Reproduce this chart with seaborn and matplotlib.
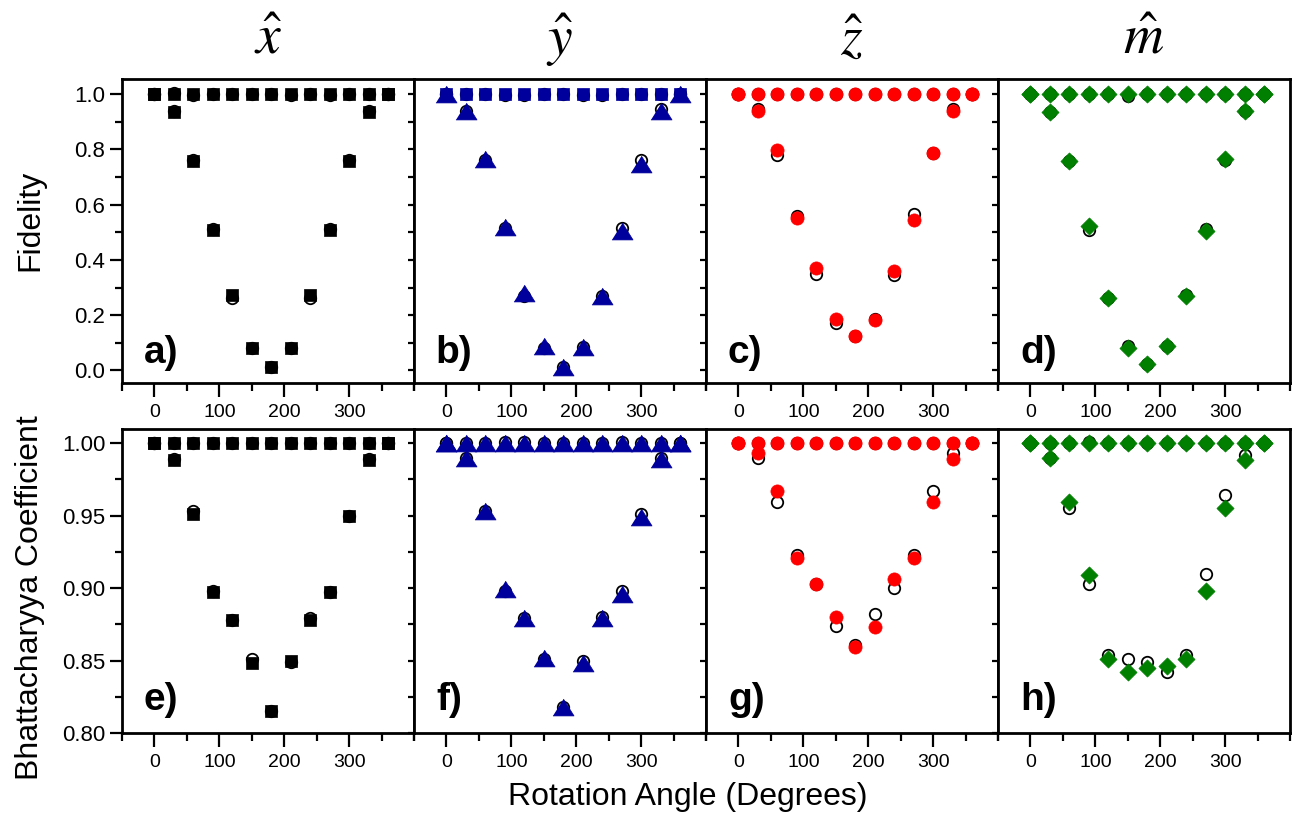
import matplotlib
matplotlib.use("Agg")
import matplotlib.pyplot as plt
from matplotlib.ticker import FixedLocator, MultipleLocator, FormatStrFormatter
from matplotlib.markers import MarkerStyle
import seaborn as sns

# ---------------- data ----------------
angles = [0, 30, 60, 90, 120, 150, 180, 210, 240, 270, 300, 330, 360]

col_titles = [r"$\hat{x}$", r"$\hat{y}$", r"$\hat{z}$", r"$\hat{m}$"]
panel_tags = ["a)", "b)", "c)", "d)", "e)", "f)", "g)", "h)"]

# Fidelity (top row): measured (filled) and predicted (open circles)
fid_a_flat_exp = [1.00, 1.00, 1.00, 1.00, 1.00, 1.00, 1.00, 1.00, 1.00, 1.00, 1.00, 1.00, 1.00]
fid_a_flat_th = [1.00, 1.005, 0.995, 1.00, 1.00, 1.00, 1.00, 0.995, 1.00, 0.995, 1.00, 1.00, 1.00]
fid_a_curve_exp = [1.00, 0.934, 0.757, 0.508, 0.272, 0.080, 0.012, 0.082, 0.272, 0.508, 0.757, 0.934, 1.00]
fid_a_curve_th = [1.00, 0.938, 0.762, 0.512, 0.262, 0.082, 0.012, 0.082, 0.262, 0.512, 0.762, 0.938, 1.00]

fid_b_flat_exp = [1.00, 1.00, 1.00, 1.00, 1.00, 1.00, 1.00, 1.00, 1.00, 1.00, 1.00, 1.00, 1.00]
fid_b_flat_th = [1.00, 1.00, 1.00, 0.995, 0.995, 1.00, 1.00, 0.995, 0.995, 1.00, 1.00, 1.00, 1.00]
fid_b_curve_exp = [1.00, 0.938, 0.763, 0.518, 0.279, 0.089, 0.011, 0.085, 0.270, 0.505, 0.748, 0.938, 1.00]
fid_b_curve_th = [1.00, 0.940, 0.760, 0.515, 0.268, 0.082, 0.014, 0.085, 0.270, 0.514, 0.762, 0.945, 1.00]

fid_c_flat_exp = [1.00, 1.00, 1.00, 1.00, 1.00, 1.00, 1.00, 1.00, 1.00, 1.00, 1.00, 1.00, 1.00]
fid_c_flat_th = [1.00, 1.00, 1.00, 1.00, 1.00, 1.00, 1.00, 1.00, 1.00, 1.00, 1.00, 1.00, 1.00]
fid_c_curve_exp = [1.00, 0.937, 0.797, 0.553, 0.371, 0.187, 0.123, 0.181, 0.360, 0.543, 0.785, 0.937, 1.00]
fid_c_curve_th = [1.00, 0.947, 0.779, 0.560, 0.350, 0.173, 0.123, 0.187, 0.344, 0.565, 0.785, 0.947, 1.00]

fid_d_flat_exp = [1.00, 1.00, 1.00, 1.00, 1.00, 1.00, 1.00, 1.00, 1.00, 1.00, 1.00, 1.00, 1.00]
fid_d_flat_th = [1.00, 1.00, 1.00, 1.00, 1.00, 0.992, 1.00, 1.00, 0.998, 1.00, 1.00, 1.00, 1.00]
fid_d_curve_exp = [1.00, 0.934, 0.759, 0.523, 0.263, 0.080, 0.022, 0.088, 0.268, 0.505, 0.763, 0.937, 1.00]
fid_d_curve_th = [1.00, 0.934, 0.759, 0.509, 0.263, 0.088, 0.022, 0.088, 0.272, 0.513, 0.760, 0.937, 1.00]

# Bhattacharyya coefficient (bottom row)
bc_e_flat_exp = [1.000, 1.000, 1.000, 1.000, 1.000, 1.000, 1.000, 1.000, 1.000, 1.000, 1.000, 1.000, 1.000]
bc_e_flat_th = [1.000, 1.000, 1.000, 1.000, 1.000, 1.000, 1.000, 1.000, 1.000, 1.000, 1.000, 1.000, 1.000]
bc_e_curve_exp = [1.000, 0.988, 0.951, 0.897, 0.878, 0.848, 0.815, 0.850, 0.878, 0.897, 0.950, 0.988, 1.000]
bc_e_curve_th = [1.000, 0.989, 0.953, 0.898, 0.878, 0.851, 0.815, 0.849, 0.879, 0.897, 0.950, 0.989, 1.000]

bc_f_flat_exp = [1.000, 1.000, 1.000, 1.000, 1.000, 1.000, 1.000, 1.000, 1.000, 1.000, 1.000, 1.000, 1.000]
bc_f_flat_th = [1.000, 1.000, 1.000, 1.001, 1.001, 1.000, 1.000, 1.000, 1.000, 1.001, 1.000, 1.000, 1.000]
bc_f_curve_exp = [1.000, 0.990, 0.953, 0.899, 0.879, 0.852, 0.818, 0.848, 0.879, 0.896, 0.949, 0.989, 1.000]
bc_f_curve_th = [1.000, 0.990, 0.953, 0.898, 0.879, 0.851, 0.818, 0.850, 0.880, 0.898, 0.951, 0.990, 1.000]

bc_g_flat_exp = [1.000, 1.000, 1.000, 1.000, 1.000, 1.000, 1.000, 1.000, 1.000, 1.000, 1.000, 1.000, 1.000]
bc_g_flat_th = [1.000, 1.000, 1.000, 1.000, 1.000, 1.000, 1.000, 1.000, 1.000, 1.000, 1.000, 1.000, 1.000]
bc_g_curve_exp = [1.000, 0.993, 0.967, 0.921, 0.903, 0.880, 0.859, 0.873, 0.906, 0.921, 0.959, 0.989, 1.000]
bc_g_curve_th = [1.000, 0.990, 0.959, 0.923, 0.903, 0.874, 0.861, 0.882, 0.900, 0.923, 0.967, 0.993, 1.000]

bc_h_flat_exp = [1.000, 1.000, 1.000, 1.000, 1.000, 1.000, 1.000, 1.000, 1.000, 1.000, 1.000, 1.000, 1.000]
bc_h_flat_th = [1.000, 1.000, 1.000, 1.001, 1.000, 1.000, 1.000, 1.000, 1.000, 1.000, 1.000, 1.000, 1.000]
bc_h_curve_exp = [1.000, 0.990, 0.959, 0.909, 0.851, 0.842, 0.845, 0.846, 0.851, 0.898, 0.955, 0.988, 1.000]
bc_h_curve_th = [1.000, 0.990, 0.955, 0.903, 0.854, 0.851, 0.849, 0.842, 0.854, 0.910, 0.964, 0.992, 1.000]

# ---------------- styles ----------------
navy = "#00009c"
red = "#ff0000"
green = "#007f00"
black = "#000000"
tri = MarkerStyle([(-1.0, -0.8), (1.0, -0.8), (0.0, 0.8)])

# per panel: (flat exp, flat th, curve exp, curve th, color, flat marker, curve marker, sizes)
panels = [
    (fid_a_flat_exp, fid_a_flat_th, fid_a_curve_exp, fid_a_curve_th, black, "s", "s", 80, 80),
    (fid_b_flat_exp, fid_b_flat_th, fid_b_curve_exp, fid_b_curve_th, navy, "s", tri, 80, 230),
    (fid_c_flat_exp, fid_c_flat_th, fid_c_curve_exp, fid_c_curve_th, red, "o", "o", 90, 90),
    (fid_d_flat_exp, fid_d_flat_th, fid_d_curve_exp, fid_d_curve_th, green, "D", "D", 76, 76),
    (bc_e_flat_exp, bc_e_flat_th, bc_e_curve_exp, bc_e_curve_th, black, "s", "s", 80, 80),
    (bc_f_flat_exp, bc_f_flat_th, bc_f_curve_exp, bc_f_curve_th, navy, tri, tri, 230, 230),
    (bc_g_flat_exp, bc_g_flat_th, bc_g_curve_exp, bc_g_curve_th, red, "o", "o", 90, 90),
    (bc_h_flat_exp, bc_h_flat_th, bc_h_curve_exp, bc_h_curve_th, green, "D", "D", 76, 76),
]

sns.set_style("ticks")
plt.rcParams["font.family"] = ["Liberation Sans", "DejaVu Sans"]
plt.rcParams["mathtext.fontset"] = "stix"
plt.rcParams["text.color"] = "black"
plt.rcParams["axes.labelcolor"] = "black"
plt.rcParams["xtick.color"] = "black"
plt.rcParams["ytick.color"] = "black"

fig, axes = plt.subplots(2, 4, figsize=(12.93, 8.17), dpi=100)
fig.subplots_adjust(left=122 / 1293, right=1290 / 1293, top=1 - 79 / 817,
                    bottom=1 - 733 / 817, wspace=0.0, hspace=0.148)

for idx, ax in enumerate(axes.flat):
    flat_exp, flat_th, curve_exp, curve_th, col, m_flat, m_curve, s_flat, s_curve = panels[idx]
    row, colno = divmod(idx, 4)

    # predicted values as open circles underneath
    for th in (flat_th, curve_th):
        sns.scatterplot(x=angles, y=th, ax=ax, marker="o", s=68, color="white",
                        edgecolor="black", linewidth=1.3, zorder=3, clip_on=False)
    # measured values
    sns.scatterplot(x=angles, y=flat_exp, ax=ax, marker=m_flat, s=s_flat, color=col,
                    edgecolor=col, linewidth=0.5, zorder=4, clip_on=False)
    sns.scatterplot(x=angles, y=curve_exp, ax=ax, marker=m_curve, s=s_curve, color=col,
                    edgecolor=col, linewidth=0.5, zorder=5, clip_on=False)

    ax.set_xlim(-50, 400)
    ax.xaxis.set_major_locator(FixedLocator([0, 100, 200, 300]))
    ax.xaxis.set_minor_locator(MultipleLocator(50))

    if row == 0:
        ax.set_ylim(-0.047, 1.054)
        ax.yaxis.set_major_locator(MultipleLocator(0.2))
        ax.yaxis.set_minor_locator(MultipleLocator(0.1))
        ax.yaxis.set_major_formatter(FormatStrFormatter("%.1f"))
    else:
        ax.set_ylim(0.80, 1.010)
        ax.yaxis.set_major_locator(MultipleLocator(0.05))
        ax.yaxis.set_minor_locator(MultipleLocator(0.025))
        ax.yaxis.set_major_formatter(FormatStrFormatter("%.2f"))

    for sp in ax.spines.values():
        sp.set_visible(True)
        sp.set_linewidth(2.0)
        sp.set_color("black")

    ax.tick_params(axis="x", which="major", direction="out", length=10, width=1.6,
                   labelsize=14, pad=5)
    ax.tick_params(axis="x", which="minor", direction="out", length=6, width=1.6)
    if colno == 0:
        ax.tick_params(axis="y", which="major", direction="out", length=9, width=1.6,
                       labelsize=16, pad=3)
        ax.tick_params(axis="y", which="minor", direction="out", length=5, width=1.6)
    else:
        ax.tick_params(axis="y", which="both", direction="out", length=4, width=1.6,
                       labelleft=False)
    ax.set_xlabel("")
    ax.set_ylabel("")

    ax.text(0.075, 0.068 if row == 0 else 0.075, panel_tags[idx], transform=ax.transAxes,
            fontsize=28, fontweight="bold", color="black", ha="left", va="baseline", zorder=6)

    if row == 0:
        bb = ax.get_position()
        fig.text((bb.x0 + bb.x1) / 2, 1 - 40 / 817, col_titles[colno], fontsize=40,
                 color="black", ha="center", va="center")

fig.text(30 / 1293, 1 - 220 / 817, "Fidelity", rotation=90, fontsize=23,
         ha="center", va="center")
fig.text(30 / 1293, 1 - 598 / 817, "Bhattacharyya Coefficient", rotation=90, fontsize=23,
         ha="center", va="center")
fig.text(688 / 1293, 1 - 797 / 817, "Rotation Angle (Degrees)", fontsize=23,
         ha="center", va="center")

fig.savefig("out.png", dpi=100)
